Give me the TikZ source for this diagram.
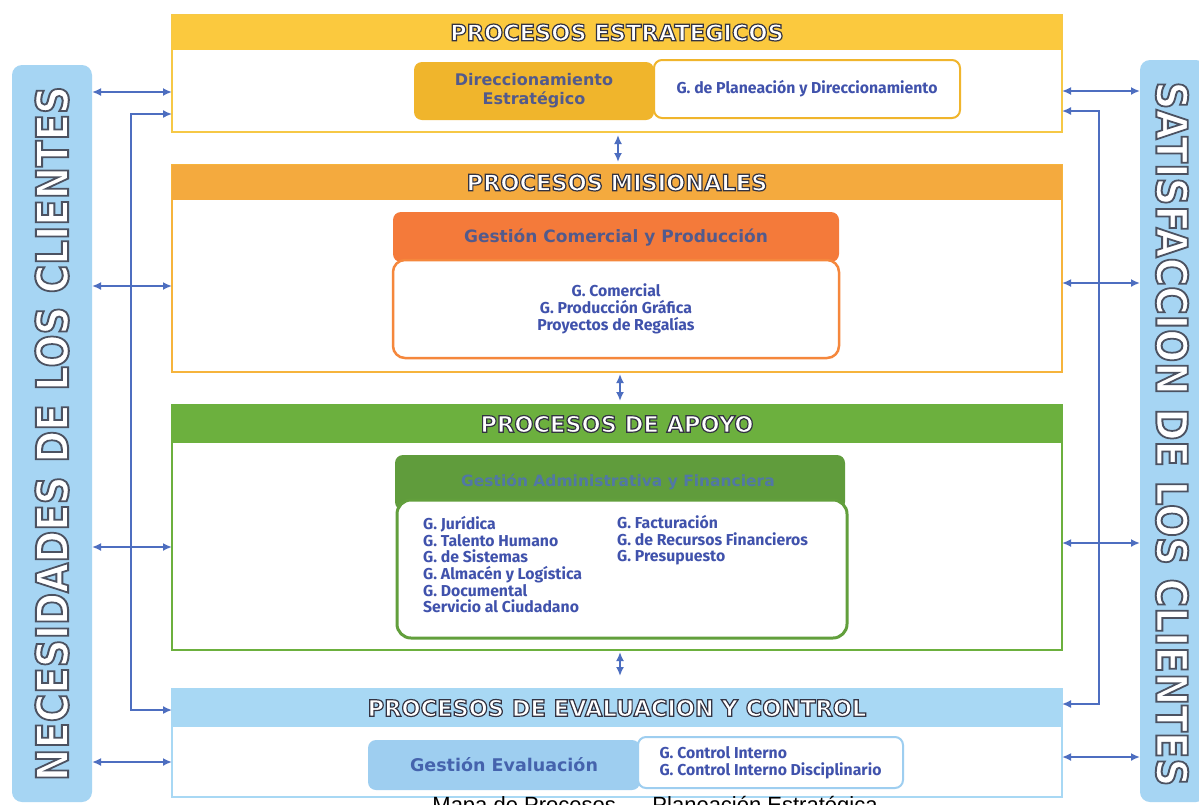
\documentclass[tikz,border=0pt]{standalone}
\usepackage{fontspec}
\usepackage{graphicx}
\usetikzlibrary{arrows.meta,calc}
\setmainfont{Liberation Sans}
\newfontfamily\hdfont{DejaVu Sans}
\newfontfamily\lsfont{Fira Sans}
\definecolor{stratY}{RGB}{251,201,62}
\definecolor{stratB}{RGB}{246,200,70}
\definecolor{dirGold}{RGB}{240,181,44}
\definecolor{misO}{RGB}{244,170,62}
\definecolor{misB}{RGB}{246,180,60}
\definecolor{comO}{RGB}{244,122,58}
\definecolor{comB}{RGB}{245,135,60}
\definecolor{apoG}{RGB}{108,176,62}
\definecolor{admG}{RGB}{96,156,60}
\definecolor{evB}{RGB}{168,216,244}
\definecolor{evD}{RGB}{158,206,240}
\definecolor{sideB}{RGB}{166,213,243}
\definecolor{arrowB}{RGB}{77,110,192}
\definecolor{txtB}{RGB}{64,82,172}
\definecolor{dimTx}{RGB}{82,90,140}
\newcommand\outl[1]{\special{pdf:literal direct 2 Tr 0.2 0.2 0.26 RG 1.2 w}#1\special{pdf:literal direct 0 Tr}}
\newcommand\sideoutl[1]{\special{pdf:literal direct 2 Tr 0.3 0.32 0.38 RG 0.45 w}#1\special{pdf:literal direct 0 Tr}}
\begin{document}
\begin{tikzpicture}[x=1pt,y=-1pt,
  area/.style={rectangle,inner sep=0pt,outer sep=0pt,anchor=north west,fill=white,line width=1.6pt},
  hdr/.style={rectangle,inner sep=0pt,outer sep=0pt,anchor=north west,minimum width=890pt},
  hdtext/.style={font=\hdfont\bfseries\fontsize{22.5}{26}\selectfont,text=white},
  rbox/.style={rectangle,rounded corners=8pt,inner sep=0pt,outer sep=0pt,anchor=north west},
  lst/.style={font=\lsfont\bfseries\fontsize{15.8}{16.7}\selectfont,text=txtB},
  dbl/.style={{Latex[length=9pt,width=8pt]}-{Latex[length=9pt,width=8pt]},draw=arrowB,line width=1.9pt},
]
\useasboundingbox (0,0) rectangle (1199,804);
\fill[white] (0,0) rectangle (1199,804);

% side bars
\node[rbox,rounded corners=10pt,fill=sideB,minimum width=80pt,minimum height=737pt] (leftbar) at (12,65) {};
\node[rotate=90] (lefttxt) at (leftbar.center) {\resizebox{695pt}{33pt}{\hdfont\bfseries\color{white}\sideoutl{NECESIDADES DE LOS CLIENTES}}};
\node[rbox,rounded corners=10pt,fill=sideB,minimum width=66pt,minimum height=742pt] (rightbar) at (1140,60) {};
\node[rotate=-90] (righttxt) at (1172,434) {\resizebox{705pt}{32pt}{\hdfont\bfseries\color{white}\sideoutl{SATISFACCION DE LOS CLIENTES}}};

% estrategicos
\node[area,draw=stratB,minimum width=890pt,minimum height=117pt] (strat) at (172,15) {};
\node[hdr,fill=stratY,minimum height=35pt] (strath) at (172,15) {};
\node[hdtext] (strattx) at (strath.center) {\outl{PROCESOS ESTRATEGICOS}};
\node[rbox,fill=dirGold,minimum width=240pt,minimum height=58pt,align=center,font=\hdfont\bfseries\fontsize{16}{19}\selectfont,text=dimTx] (dir) at (414,62) {Direccionamiento\\Estratégico};
\node[rbox,fill=white,draw=dirGold,line width=2pt,minimum width=306pt,minimum height=58pt,lst] (plan) at (654,60) {G. de Planeación y Direccionamiento};

% misionales
\node[area,draw=misB,minimum width=890pt,minimum height=207pt] (mis) at (172,165) {};
\node[hdr,fill=misO,minimum height=35pt] (mish) at (172,165) {};
\node[hdtext] (mistx) at (mish.center) {\outl{PROCESOS MISIONALES}};
\node[rbox,fill=comO,minimum width=446pt,minimum height=50pt] (comh) at (393,212) {};
\node[font=\hdfont\bfseries\fontsize{17}{20}\selectfont,text=dimTx] (comtx) at ($(comh.center)+(0,1)$) {Gestión Comercial y Producción};
\node[rbox,rounded corners=12pt,fill=white,draw=comB,line width=2.5pt,minimum width=446pt,minimum height=98pt,lst,align=center] (com) at (393,260) {G. Comercial\\G. Producción Gráfica\\Proyectos de Regalías};

% apoyo
\node[area,draw=apoG,minimum width=890pt,minimum height=245pt] (apo) at (172,405) {};
\node[hdr,fill=apoG,minimum height=38pt] (apoh) at (172,405) {};
\node[hdtext] (apotx) at (apoh.center) {\outl{PROCESOS DE APOYO}};
\node[rbox,fill=admG,minimum width=450pt,minimum height=55pt] (admh) at (395,455) {};
\node[font=\hdfont\bfseries\fontsize{15.5}{18}\selectfont,text=arrowB!80!admG] (admtx) at (618,482) {Gestión Administrativa y Financiera};
\node[rbox,rounded corners=14pt,fill=white,draw=admG!85!apoG,line width=3pt,minimum width=450pt,minimum height=138pt] (adm) at (397,500) {};
\node[lst,anchor=north west,align=left,inner sep=0pt] (admL) at (423,516) {G. Jurídica\\G. Talento Humano\\G. de Sistemas\\G. Almacén y Logística\\G. Documental\\Servicio al Ciudadano};
\node[lst,anchor=north west,align=left,inner sep=0pt] (admR) at (617,515) {G. Facturación\\G. de Recursos Financieros\\G. Presupuesto};

% evaluacion
\node[area,draw=evB,minimum width=890pt,minimum height=108pt] (ev) at (172,689) {};
\node[hdr,fill=evB,minimum height=38pt] (evh) at (172,689) {};
\node[hdtext] (evtx) at (evh.center) {\outl{PROCESOS DE EVALUACION Y CONTROL}};
\node[rbox,fill=evD,minimum width=272pt,minimum height=50pt,font=\hdfont\bfseries\fontsize{17.5}{20}\selectfont,text=arrowB!90!black] (gev) at (368,740) {Gestión Evaluación};
\node[rbox,fill=white,draw=evD,line width=2pt,minimum width=265pt,minimum height=51pt,lst,align=left] (ctrl) at (638,737) {G. Control Interno\\G. Control Interno Disciplinario};

% caption (cut by the page edge, as in the source)
\node[font=\fontsize{22}{24}\selectfont,anchor=base] (cap) at (655,812) {Mapa de Procesos \ – \ Planeación Estratégica};

% coordinates for connector heights
\coordinate (yl1) at (0,92);
\coordinate (yl2) at (0,286);
\coordinate (yl3) at (0,547);
\coordinate (yl4) at (0,762);
\coordinate (yr1) at (0,91);
\coordinate (yr2) at (0,283);
\coordinate (yr3) at (0,543);
\coordinate (yr4) at (0,757);
\coordinate (lbt) at (131,114);
\coordinate (lbb) at (131,710);
\coordinate (rbt) at (1099,111);
\coordinate (rbb) at (1099,704);

% left connectors
\draw[dbl] (leftbar.east |- yl1) -- (strat.west |- yl1);
\draw[dbl] (leftbar.east |- yl2) -- (mis.west |- yl2);
\draw[dbl] (leftbar.east |- yl3) -- (apo.west |- yl3);
\draw[dbl] (leftbar.east |- yl4) -- (ev.west |- yl4);
\draw[dbl,line width=1.6pt] (strat.west |- lbt) -- (lbt) -- (lbb) -- (ev.west |- lbb);

% right connectors
\draw[dbl] (strat.east |- yr1) -- (rightbar.west |- yr1);
\draw[dbl] (mis.east |- yr2) -- (rightbar.west |- yr2);
\draw[dbl] (apo.east |- yr3) -- (rightbar.west |- yr3);
\draw[dbl] (ev.east |- yr4) -- (rightbar.west |- yr4);
\draw[dbl,line width=1.6pt] (strat.east |- rbt) -- (rbt) -- (rbb) -- (ev.east |- rbb);

% vertical connectors
\draw[dbl,shorten <=3pt,shorten >=3pt] ($(strat.south)+(1,0)$) -- ($(mis.north)+(1,0)$);
\draw[dbl,shorten <=2pt,shorten >=4pt] ($(mis.south)+(3,0)$) -- ($(apo.north)+(3,0)$);
\draw[dbl,shorten <=2pt,shorten >=13pt] ($(apo.south)+(3,0)$) -- ($(ev.north)+(3,0)$);
\end{tikzpicture}
\end{document}
